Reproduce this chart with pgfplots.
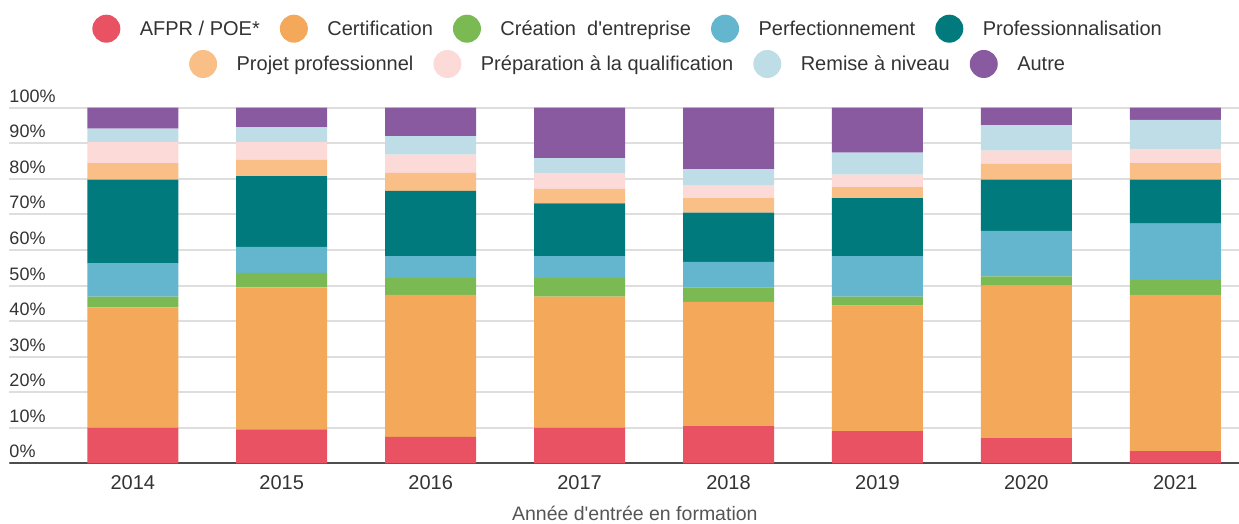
\documentclass[border=0pt]{standalone}
\usepackage{pgfplots}
\pgfplotsset{compat=1.18}
\usepackage{pgfplotstable}
\usepackage{fontspec}
\setmainfont{Liberation Sans}[Ligatures=TeXReset]

\definecolor{cAfpr}{HTML}{E95262}
\definecolor{cCert}{HTML}{F4A95A}
\definecolor{cCrea}{HTML}{7BBA53}
\definecolor{cPerf}{HTML}{64B6CF}
\definecolor{cProf}{HTML}{007A7C}
\definecolor{cProj}{HTML}{F9BF87}
\definecolor{cPrep}{HTML}{FCDAD8}
\definecolor{cRem}{HTML}{BEDDE7}
\definecolor{cAutre}{HTML}{8A5AA0}
\definecolor{gridgray}{HTML}{DEDEDE}
\definecolor{basegray}{HTML}{4D4D4D}
\definecolor{txt}{HTML}{333333}
\definecolor{txtlight}{HTML}{555555}

\pgfplotstableread{
x afpr cert crea perf prof proj prep rem autre
0 10.1 33.8 3.0 9.4 23.5 4.6 6.0 3.7 5.9
1 9.6 39.9 4.1 7.3 19.9 4.5 5.1 4.1 5.5
2 7.5 39.9 4.8 6.1 18.3 5.1 5.1 5.2 8.0
3 10.1 36.8 5.3 6.1 14.8 4.1 4.5 4.1 14.2
4 10.5 34.9 4.1 7.2 13.8 4.1 3.5 4.6 17.3
5 9.1 35.3 2.5 11.4 16.3 3.1 3.5 6.2 12.6
6 7.1 42.9 2.6 12.8 14.4 4.5 3.6 7.2 4.9
7 3.5 43.9 4.2 15.8 12.4 4.6 4.0 8.2 3.4
}\data

\pgfplotsset{
  geom/.style={at={(9.3pt,60.5pt)}, anchor=south west, scale only axis,
    width=1229.7pt, height=355.8pt},
  mylegend/.style={
    every axis plot post/.append style={
      legend image code/.code={\fill[##1] (0pt,0pt) circle (14pt);}},
    legend image code/.code={\fill[##1] (0pt,0pt) circle (14pt);},
    legend cell align=left,
    legend style={draw=none, fill=none, anchor=center,
      font=\fontsize{20}{24}\selectfont, text=txt,
      nodes={inner xsep=0pt, inner ysep=2pt},
      /tikz/every odd column/.append style={column sep=19.5pt},
      /tikz/every even column/.append style={column sep=20pt}},
  },
}

\begin{document}
\begin{tikzpicture}
\useasboundingbox (0,0) rectangle (1239pt,524pt);
\begin{axis}[
  geom,
  ybar stacked, bar width=91pt,
  mylegend,
  legend columns=5,
  legend style={at={(axis description cs:0.5024,1.2220)}},
  xmin=-0.8292, xmax=7.4277, ymin=0, ymax=100,
  axis line style={draw=none},
  major tick length=0pt,
  ytick={0,10,...,100},
  yticklabels={0\%,10\%,20\%,30\%,40\%,50\%,60\%,70\%,80\%,90\%,100\%},
  yticklabel style={anchor=base west, inner sep=0pt, yshift=5.5pt,
    font=\fontsize{18}{21}\selectfont, text=txt},
  ymajorgrids, major grid style={draw=gridgray, line width=2pt},
  xtick={0,...,7},
  xticklabels={2014,2015,2016,2017,2018,2019,2020,2021},
  xticklabel style={anchor=base, inner sep=0pt, yshift=-26.5pt,
    font=\fontsize{20}{24}\selectfont, text=txt},
  xlabel={Année d'entrée en formation},
  xlabel style={at={(axis description cs:0.5087,0)}, anchor=base,
    inner sep=0pt, yshift=-57.5pt, font=\fontsize{19.5}{23}\selectfont, text=txtlight},
  every axis plot/.append style={draw=none},
]
\addplot[fill=cAfpr] table[x=x,y=afpr]{\data};
\addplot[fill=cCert] table[x=x,y=cert]{\data};
\addplot[fill=cCrea] table[x=x,y=crea]{\data};
\addplot[fill=cPerf] table[x=x,y=perf]{\data};
\addplot[fill=cProf] table[x=x,y=prof]{\data};
\addplot[fill=cProj] table[x=x,y=proj]{\data};
\addplot[fill=cPrep] table[x=x,y=prep]{\data};
\addplot[fill=cRem] table[x=x,y=rem]{\data};
\addplot[fill=cAutre] table[x=x,y=autre]{\data};
\legend{AFPR / POE*, Certification, Création\ \ d'entreprise, Perfectionnement, Professionnalisation}
\draw[basegray, line width=3.3pt] (axis description cs:0,0) -- (axis description cs:1,0);
\end{axis}
\begin{axis}[
  geom, mylegend, hide axis,
  xmin=0, xmax=1, ymin=0, ymax=1,
  legend columns=4,
  legend style={at={(axis description cs:0.5024,1.1228)}},
]
\addlegendimage{fill=cProj, draw=none}
\addlegendimage{fill=cPrep, draw=none}
\addlegendimage{fill=cRem, draw=none}
\addlegendimage{fill=cAutre, draw=none}
\legend{Projet professionnel, Préparation à la qualification, Remise à niveau, Autre}
\end{axis}
\end{tikzpicture}
\end{document}
